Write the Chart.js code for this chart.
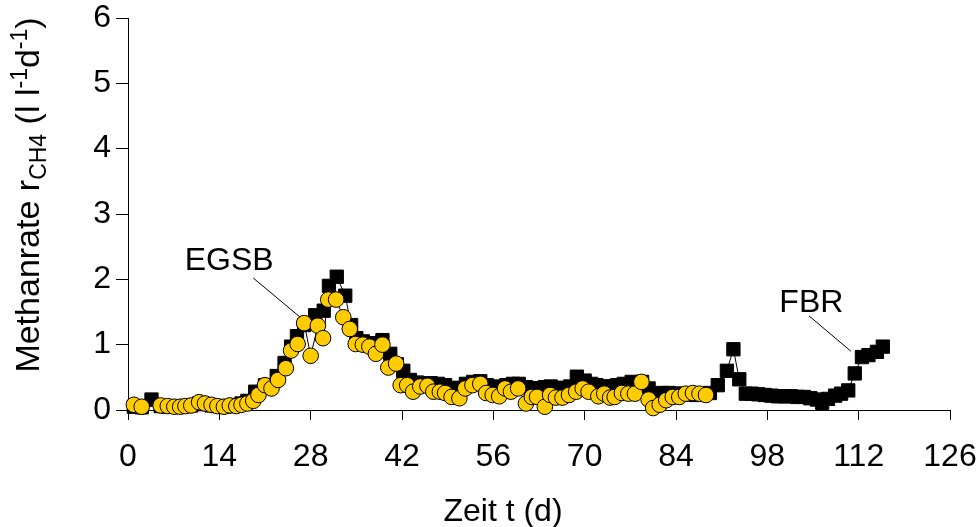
<!DOCTYPE html>
<html>
<head>
<meta charset="utf-8">
<script src="https://cdn.jsdelivr.net/npm/chart.js@4.4.1/dist/chart.umd.min.js"></script>
<style>
  html, body { margin: 0; padding: 0; background: #ffffff; }
  #wrap { width: 976px; height: 527px; position: relative; }
</style>
</head>
<body>
<div id="wrap"><canvas id="c" width="976" height="527"></canvas></div>
<script>
// Axis ticks
const dayTicks = [0, 14, 28, 42, 56, 70, 84, 98, 112, 126];
const rateTicks = [0, 1, 2, 3, 4, 5, 6];

// EGSB reactor: time (d) and methane rate (l l-1 d-1)
const egsbDays = [0.9, 2.1, 5.0, 6.1, 7.1, 8.0, 8.8, 9.7, 10.9, 11.8,
  12.8, 13.7, 14.7, 15.6, 16.6, 17.4, 18.3, 19.2, 20.0, 21.0,
  22.0, 23.0, 24.2, 25.0, 26.0, 27.0, 28.0, 29.1, 29.9, 30.7,
  31.9, 33.0, 34.0, 34.9, 36.0, 37.0, 38.0, 39.0, 39.9, 41.1,
  41.8, 42.8, 43.7, 44.8, 45.9, 46.8, 47.8, 48.6, 49.6, 50.8,
  51.7, 52.8, 54.0, 54.9, 55.9, 56.9, 57.8, 58.7, 59.8, 61.0,
  61.9, 62.7, 63.9, 64.7, 65.6, 66.6, 67.6, 68.7, 69.7, 70.6,
  72.1, 73.0, 73.9, 74.6, 75.7, 76.7, 77.7, 78.7, 79.8, 80.5,
  81.5, 82.5, 83.5, 84.5, 85.5, 86.6, 87.6, 88.6];
const egsbRate = [0.08, 0.05, 0.07, 0.06, 0.05, 0.05, 0.06, 0.07, 0.12, 0.10,
  0.08, 0.06, 0.05, 0.07, 0.06, 0.08, 0.10, 0.14, 0.23, 0.38,
  0.33, 0.46, 0.64, 0.91, 1.01, 1.33, 0.83, 1.29, 1.10, 1.69,
  1.69, 1.42, 1.24, 1.01, 1.00, 0.97, 0.86, 1.00, 0.65, 0.71,
  0.38, 0.38, 0.28, 0.36, 0.37, 0.28, 0.28, 0.26, 0.20, 0.18,
  0.33, 0.38, 0.40, 0.26, 0.23, 0.21, 0.33, 0.28, 0.33, 0.10,
  0.20, 0.20, 0.05, 0.23, 0.19, 0.19, 0.23, 0.28, 0.33, 0.28,
  0.21, 0.25, 0.19, 0.20, 0.26, 0.25, 0.25, 0.43, 0.16, 0.03,
  0.08, 0.15, 0.20, 0.20, 0.25, 0.26, 0.25, 0.23];

// FBR reactor: time (d) and methane rate (l l-1 d-1)
const fbrDays = [0.9, 2.1, 3.6, 5.0, 6.1, 7.1, 8.0, 8.8, 9.7, 10.9,
  11.8, 12.8, 13.7, 14.7, 15.6, 16.6, 17.4, 18.3, 19.5, 21.0,
  22.8, 24.0, 25.0, 25.9, 27.0, 28.7, 30.0, 30.8, 32.0, 33.3,
  34.2, 35.0, 36.0, 37.1, 38.0, 39.0, 40.2, 41.2, 42.2, 43.2,
  44.3, 45.3, 46.4, 47.5, 48.6, 49.8, 50.9, 51.8, 52.9, 54.0,
  55.0, 56.0, 57.0, 58.0, 59.0, 59.9, 61.0, 61.8, 62.8, 63.9,
  64.8, 65.8, 66.8, 67.8, 68.8, 70.0, 71.0, 71.8, 73.0, 74.0,
  75.0, 76.0, 77.2, 78.8, 79.8, 80.8, 81.9, 82.9, 84.0, 85.0,
  86.0, 87.0, 88.0, 89.2, 90.4, 91.8, 92.8, 93.7, 94.7, 95.6,
  96.6, 97.6, 98.6, 99.6, 100.6, 101.6, 102.6, 103.6, 104.6, 105.6,
  106.4, 107.3, 108.4, 109.3, 110.4, 111.4, 112.5, 113.5, 114.8, 115.7];
const fbrRate = [0.05, 0.04, 0.16, 0.06, 0.05, 0.05, 0.05, 0.06, 0.07, 0.10,
  0.09, 0.07, 0.06, 0.05, 0.06, 0.07, 0.10, 0.14, 0.28, 0.38,
  0.52, 0.72, 0.97, 1.13, 1.30, 1.45, 1.52, 1.90, 2.04, 1.75,
  1.30, 1.10, 1.05, 1.02, 1.02, 1.07, 0.86, 0.70, 0.60, 0.46,
  0.42, 0.41, 0.41, 0.40, 0.38, 0.34, 0.33, 0.40, 0.43, 0.44,
  0.38, 0.33, 0.36, 0.38, 0.40, 0.40, 0.35, 0.33, 0.33, 0.35,
  0.36, 0.34, 0.33, 0.36, 0.51, 0.45, 0.40, 0.38, 0.36, 0.36,
  0.38, 0.40, 0.43, 0.43, 0.33, 0.25, 0.26, 0.26, 0.25, 0.25,
  0.24, 0.23, 0.24, 0.26, 0.38, 0.60, 0.93, 0.47, 0.25, 0.25,
  0.24, 0.23, 0.22, 0.21, 0.21, 0.21, 0.20, 0.20, 0.18, 0.16,
  0.11, 0.17, 0.22, 0.25, 0.30, 0.56, 0.81, 0.84, 0.89, 0.97];

const FONT = "'Liberation Sans', Arial, Helvetica, sans-serif";

const toPoints = (xs, ys) => xs.map((x, i) => ({ x: x, y: ys[i] }));

// Series name callouts with leader lines (positions in data units)
const callouts = [
  { text: 'EGSB', x: 15.5, base: 2.14, from: [19.2, 2.02], to: [26.4, 1.42] },
  { text: 'FBR', x: 104.75, base: 1.50, from: [104.4, 1.44], to: [110.8, 0.90] }
];

// Measures text runs with sub/superscripts
function richRuns(ctx, runs, size) {
  const parts = runs.map(r => {
    const s = r.k ? Math.round(size * 0.68) : size;
    ctx.font = s + 'px ' + FONT;
    return { t: r.t, s: s, dy: r.k === 'sub' ? size * 0.22 : (r.k === 'sup' ? -size * 0.36 : 0), w: ctx.measureText(r.t).width };
  });
  const total = parts.reduce((a, p) => a + p.w, 0);
  return { parts, total };
}

const labelsPlugin = {
  id: 'axisTitlesAndCallouts',
  afterDraw(chart) {
    const ctx = chart.ctx;
    const xs = chart.scales.x, ys = chart.scales.y;
    ctx.save();
    ctx.fillStyle = '#000';

    // y axis title with subscript and superscripts
    const ySize = 34;
    const runs = [
      { t: 'Methanrate r' }, { t: 'CH4', k: 'sub' }, { t: ' (l l' },
      { t: '-1', k: 'sup' }, { t: 'd' }, { t: '-1', k: 'sup' }, { t: ')' }
    ];
    const rr = richRuns(ctx, runs, ySize);
    ctx.save();
    ctx.translate(39, 195);
    ctx.rotate(-Math.PI / 2);
    ctx.textAlign = 'left';
    ctx.textBaseline = 'alphabetic';
    let cx = -rr.total / 2;
    rr.parts.forEach(p => {
      ctx.font = p.s + 'px ' + FONT;
      ctx.fillText(p.t, cx, p.dy);
      cx += p.w;
    });
    ctx.restore();

    // x axis title
    const size = 32;
    ctx.font = size + 'px ' + FONT;
    ctx.textAlign = 'center';
    ctx.textBaseline = 'alphabetic';
    ctx.fillText('Zeit t (d)', 503, 521);

    // callouts
    callouts.forEach(c => {
      ctx.strokeStyle = '#000';
      ctx.lineWidth = 1;
      ctx.beginPath();
      ctx.moveTo(xs.getPixelForValue(c.from[0]), ys.getPixelForValue(c.from[1]));
      ctx.lineTo(xs.getPixelForValue(c.to[0]), ys.getPixelForValue(c.to[1]));
      ctx.stroke();
      ctx.font = size + 'px ' + FONT;
      ctx.textAlign = 'center';
      ctx.fillText(c.text, xs.getPixelForValue(c.x), ys.getPixelForValue(c.base));
    });
    ctx.restore();
  }
};

new Chart(document.getElementById('c'), {
  type: 'line',
  data: {
    datasets: [
      {
        label: 'EGSB',
        data: toPoints(egsbDays, egsbRate),
        borderColor: '#000000',
        borderWidth: 1,
        pointStyle: 'circle',
        pointRadius: 7.8,
        pointBorderWidth: 1,
        pointBackgroundColor: '#FFCC00',
        pointBorderColor: '#000000',
        tension: 0,
        clip: false,
        order: 0
      },
      {
        label: 'FBR',
        data: toPoints(fbrDays, fbrRate),
        borderColor: '#000000',
        borderWidth: 1,
        pointStyle: 'rect',
        pointRadius: 9.4,
        pointBorderWidth: 1,
        pointBackgroundColor: '#000000',
        pointBorderColor: '#000000',
        tension: 0,
        clip: false,
        order: 1
      }
    ]
  },
  options: {
    responsive: false,
    devicePixelRatio: 1,
    animation: false,
    events: [],
    layout: { padding: { top: 18, right: 26, bottom: 0, left: 0 } },
    plugins: { legend: { display: false }, tooltip: { enabled: false } },
    scales: {
      x: {
        type: 'linear',
        position: 'bottom',
        min: 0, max: 126,
        afterBuildTicks: s => { s.ticks = dayTicks.map(v => ({ value: v })); },
        afterFit: s => { s.height = 117; s.paddingLeft = 0; s.paddingRight = 0; },
        ticks: { color: '#000', font: { family: FONT, size: 32 }, padding: 18, maxRotation: 0, autoSkip: false },
        grid: { display: true, drawOnChartArea: false, drawTicks: true, tickLength: 10, color: '#000', tickColor: '#000', tickWidth: 1 },
        border: { display: true, color: '#000', width: 1 }
      },
      y: {
        type: 'linear',
        position: 'left',
        min: 0, max: 6,
        afterBuildTicks: s => { s.ticks = rateTicks.map(v => ({ value: v })); },
        afterFit: s => { s.width = 128; s.paddingTop = 0; s.paddingBottom = 0; },
        ticks: { color: '#000', font: { family: FONT, size: 32 }, padding: 5 },
        grid: { display: true, drawOnChartArea: false, drawTicks: true, tickLength: 12, color: '#000', tickColor: '#000', tickWidth: 1 },
        border: { display: true, color: '#000', width: 1 }
      }
    }
  },
  plugins: [labelsPlugin]
});
</script>
</body>
</html>
